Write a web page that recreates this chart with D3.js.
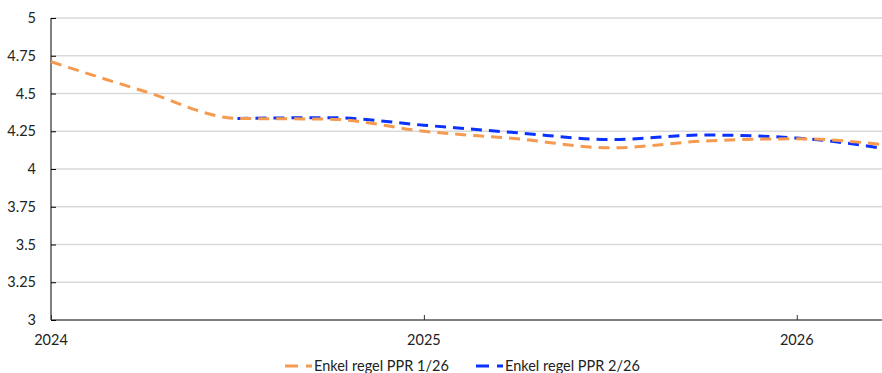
<!DOCTYPE html>
<html><head><meta charset="utf-8">
<script src="https://cdn.jsdelivr.net/npm/d3@7"></script>
<style>body{margin:0;background:#fff}svg{display:block;font-family:Lato,"Open Sans",sans-serif}</style>
</head><body><svg id="c" width="882" height="373"></svg>
<script>
const quarters = [2024.0, 2024.25, 2024.5, 2024.75, 2025.0, 2025.25, 2025.5, 2025.75, 2026.0, 2026.25];
const ppr1 = [4.71, 4.515, 4.335, 4.33, 4.25, 4.20, 4.14, 4.185, 4.20, 4.157];
const ppr2 = [null, null, 4.335, 4.34, 4.29, 4.24, 4.195, 4.225, 4.205, 4.13];
const yTicks = [3, 3.25, 3.5, 3.75, 4, 4.25, 4.5, 4.75, 5];
const yTickLabels = ["3", "3.25", "3.5", "3.75", "4", "4.25", "4.5", "4.75", "5"];
const xTicks = [2024, 2025, 2026];
const seriesNames = ["Enkel regel PPR 1/26", "Enkel regel PPR 2/26"];
const colors = ["#F59A4E", "#0A32FF"];

const svg = d3.select("#c");
const x = d3.scaleLinear().domain([2024, 2026.25]).range([51, 890]);
const y = d3.scaleLinear().domain([3, 5]).range([320, 18]);

// gridlines
svg.append("g").selectAll("line").data(yTicks.filter(d => d > 3)).join("line")
  .attr("x1", 51).attr("x2", 882).attr("y1", d => y(d)).attr("y2", d => y(d))
  .attr("stroke", "#d9d9d9").attr("stroke-width", 1.3);

// y axis
const yAxis = d3.axisRight(y).tickValues(yTicks).tickSize(5).tickFormat("");
const gy = svg.append("g").attr("transform", "translate(51,0)").call(yAxis);
gy.select(".domain").attr("stroke", "#000").attr("d", `M0,${y(5)}V${y(3)}`);
gy.selectAll(".tick line").attr("stroke", "#000");
svg.append("g").selectAll("text").data(yTicks).join("text")
  .attr("x", 36).attr("y", d => y(d) + 5).attr("text-anchor", "end")
  .attr("font-size", 14.5).attr("fill", "#222").text((d, i) => yTickLabels[i]);

// x axis
const xAxis = d3.axisTop(x).tickValues(xTicks).tickSize(5).tickFormat("");
const gx = svg.append("g").attr("transform", `translate(0,${y(3)})`).call(xAxis);
gx.select(".domain").attr("stroke", "#000").attr("d", "M51,0H882");
gx.selectAll(".tick line").attr("stroke", "#333");
svg.append("g").selectAll("text").data(xTicks).join("text")
  .attr("x", d => x(d)).attr("y", 345).attr("text-anchor", "middle")
  .attr("font-size", 14.5).attr("fill", "#222").text(d => d);

// lines
const line = d3.line().defined(d => d[1] != null).x(d => x(d[0])).y(d => y(d[1])).curve(d3.curveMonotoneX);
[ppr2, ppr1].forEach((vals, k) => {
  const idx = k === 0 ? 1 : 0;
  svg.append("path").datum(quarters.map((q, i) => [q, vals[i]]))
    .attr("d", line).attr("fill", "none").attr("stroke", colors[idx])
    .attr("stroke-width", 3).attr("stroke-dasharray", "11,7");
});

// legend
const legendX = [285, 476];
seriesNames.forEach((name, i) => {
  svg.append("line").attr("x1", legendX[i]).attr("x2", legendX[i] + 27)
    .attr("y1", 366).attr("y2", 366).attr("stroke", colors[i])
    .attr("stroke-width", 3).attr("stroke-dasharray", "13,8");
  svg.append("text").attr("x", legendX[i] + 29).attr("y", 371)
    .attr("font-size", 14.5).attr("fill", "#222").text(name);
});
</script></body></html>
